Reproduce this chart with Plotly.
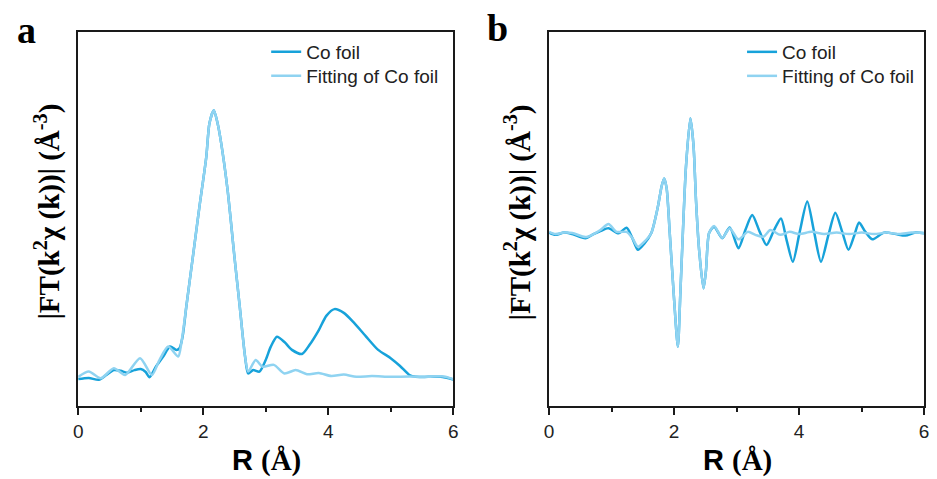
import plotly.graph_objects as go

# ---------------- data ----------------
# Panel a: |FT| magnitude (arbitrary units)
r_a_foil = [0.00, 0.17, 0.33, 0.45, 0.57, 0.68, 0.78, 0.90, 1.00, 1.08, 1.14, 1.25, 1.36, 1.47, 1.57,
            1.62, 1.67, 1.73, 1.835, 1.94, 2.05, 2.10, 2.17, 2.23, 2.28, 2.39, 2.50, 2.585, 2.67,
            2.72, 2.80, 2.90, 3.00, 3.08, 3.18, 3.30, 3.42, 3.58, 3.70, 3.85, 3.97, 4.10, 4.25, 4.40,
            4.60, 4.80, 5.00, 5.15, 5.30, 5.40, 5.60, 5.80, 6.00]
v_a_foil = [0.72, 0.75, 0.70, 0.83, 0.96, 0.94, 0.89, 0.96, 0.99, 0.91, 0.77, 1.07, 1.32, 1.59, 1.50,
            1.54, 1.85, 2.66, 3.99, 5.33, 6.67, 7.56, 7.91, 7.56, 7.11, 5.78, 3.99, 2.66, 1.32,
            0.87, 0.96, 0.92, 1.23, 1.58, 1.85, 1.71, 1.50, 1.39, 1.63, 2.03, 2.41, 2.59, 2.49, 2.25,
            1.87, 1.50, 1.28, 1.07, 0.83, 0.78, 0.78, 0.78, 0.71]

r_a_fit = [0.00, 0.17, 0.36, 0.57, 0.75, 0.99, 1.18, 1.30, 1.44, 1.60, 1.65, 1.73, 1.835, 1.94,
           2.05, 2.10, 2.17, 2.23, 2.28, 2.39, 2.50, 2.585, 2.67, 2.72, 2.84, 2.95, 3.13, 3.30,
           3.48, 3.66, 3.85, 4.05, 4.25, 4.45, 4.70, 5.00, 5.30, 5.60, 5.85, 6.00]
v_a_fit = [0.78, 0.92, 0.74, 1.01, 0.83, 1.28, 0.83, 1.23, 1.59, 1.32, 1.68, 2.66, 3.99, 5.33,
           6.67, 7.56, 7.91, 7.56, 7.11, 5.78, 3.99, 2.66, 1.32, 0.92, 1.23, 1.05, 1.10, 0.87,
           0.96, 0.85, 0.88, 0.80, 0.84, 0.78, 0.80, 0.78, 0.79, 0.78, 0.79, 0.72]

# Panel b: real part of FT (arbitrary units)
r_b_foil = [0.00, 0.10, 0.24, 0.37, 0.58, 0.71, 0.82, 0.95, 1.11, 1.24, 1.33, 1.42, 1.52, 1.635, 1.74,
            1.80, 1.84, 1.88, 1.93, 2.00, 2.06, 2.10, 2.14, 2.19, 2.26, 2.31, 2.35, 2.40, 2.47, 2.51,
            2.56, 2.64, 2.77, 2.89, 3.03, 3.14, 3.25, 3.37, 3.48, 3.60, 3.71, 3.80, 3.90, 4.01, 4.13,
            4.24, 4.35, 4.47, 4.58, 4.69, 4.79, 4.88, 4.96, 5.06, 5.17, 5.36, 5.55, 5.70, 5.86, 6.00]
v_b_foil = [0.01, -0.05, 0.01, -0.03, -0.14, -0.03, 0.05, 0.13, -0.01, 0.14, -0.13, -0.45, -0.29, 0.00, 0.70,
            1.25, 1.46, 1.20, 0.00, -1.79, -3.04, -1.60, 0.00, 1.78, 3.07, 2.35, 0.88, -0.45, -1.48, -1.00,
            0.00, 0.17, -0.14, 0.15, -0.41, 0.08, 0.48, 0.03, -0.32, 0.08, 0.39, -0.19, -0.77, 0.03, 0.84,
            0.03, -0.77, -0.05, 0.54, 0.03, -0.45, -0.08, 0.28, 0.03, -0.17, 0.01, -0.03, -0.07, 0.01, -0.01]

r_b_fit = [0.00, 0.10, 0.24, 0.37, 0.58, 0.71, 0.82, 0.95, 1.08, 1.24, 1.33, 1.42, 1.52, 1.635, 1.74,
           1.80, 1.84, 1.88, 1.93, 2.00, 2.06, 2.10, 2.14, 2.19, 2.26, 2.31, 2.35, 2.40, 2.47, 2.51,
           2.56, 2.64, 2.77, 2.89, 3.03, 3.18, 3.30, 3.43, 3.54, 3.70, 3.85, 4.00, 4.20, 4.40, 4.60,
           4.80, 5.00, 5.20, 5.40, 5.60, 5.80, 6.00]
v_b_fit = [0.03, -0.03, 0.01, 0.00, -0.11, -0.03, 0.08, 0.24, 0.03, 0.03, -0.13, -0.37, -0.24, 0.00, 0.70,
           1.25, 1.46, 1.20, 0.00, -1.79, -3.04, -1.60, 0.00, 1.78, 3.07, 2.35, 0.88, -0.45, -1.48, -1.00,
           0.00, 0.19, -0.13, 0.13, -0.17, 0.03, -0.05, -0.10, 0.08, -0.05, 0.03, -0.03, 0.03, -0.03, 0.01,
           -0.03, 0.01, -0.03, 0.01, -0.03, 0.01, 0.00]

x_tick_vals = [0, 2, 4, 6]
x_tick_text = ["0", "2", "4", "6"]
legend_names = ["Co foil", "Fitting of Co foil"]

# ---------------- style ----------------
DARK = "#17a2da"
LIGHT = "#8fd3f1"
W, H = 937, 479

fig = go.Figure()

def add_panel(xr, yr, xf, yf, xa, ya, leg1, leg2):
    fig.add_trace(go.Scatter(x=xr, y=yr, mode="lines", name=legend_names[0],
                             line=dict(color=DARK, width=2.5, shape="spline", smoothing=0.7),
                             xaxis=xa, yaxis=ya, legend=leg1))
    fig.add_trace(go.Scatter(x=xf, y=yf, mode="lines", name=legend_names[1],
                             line=dict(color=LIGHT, width=2.5, shape="spline", smoothing=0.7),
                             xaxis=xa, yaxis=ya, legend=leg2))

add_panel(r_a_foil, v_a_foil, r_a_fit, v_a_fit, "x", "y", "legend", "legend2")
add_panel(r_b_foil, v_b_foil, r_b_fit, v_b_fit, "x2", "y2", "legend3", "legend4")

y_dom = [(H - 406) / H, (H - 32) / H]
xdom_a = [74 / W, 453 / W]
xdom_b = [550 / W, 929 / W]

xaxis_common = dict(range=[0, 6], tickvals=x_tick_vals, ticktext=x_tick_text,
                    showline=True, linecolor="#1a1a1a", linewidth=2, mirror=True,
                    ticks="outside", ticklen=7, tickwidth=2, tickcolor="#1a1a1a",
                    minor=dict(ticks="outside", ticklen=4, tickwidth=1.5, dtick=1, tickcolor="#1a1a1a", showgrid=False),
                    showgrid=False, zeroline=False,
                    tickfont=dict(family="Liberation Sans, Arial", size=19, color="#222222"))
yaxis_common = dict(showline=True, linecolor="#1a1a1a", linewidth=2, mirror=True,
                    showticklabels=False, ticks="", showgrid=False, zeroline=False, domain=y_dom)

legend_common = dict(font=dict(family="Liberation Sans, Arial", size=19, color="#222222"),
                     bgcolor="rgba(0,0,0,0)", borderwidth=0, tracegroupgap=0,
                     xanchor="left", yanchor="top")

fig.update_layout(
    width=W, height=H,
    margin=dict(l=0, r=0, t=0, b=0),
    paper_bgcolor="white", plot_bgcolor="white",
    showlegend=True,
    xaxis=dict(domain=xdom_a, anchor="y", **xaxis_common),
    yaxis=dict(range=[0, 10], anchor="x", **yaxis_common),
    xaxis2=dict(domain=xdom_b, anchor="y2", **xaxis_common),
    yaxis2=dict(range=[-4.626, 5.374], anchor="x2", **yaxis_common),
    legend=dict(x=264 / W, y=1 - 33 / H, **legend_common),
    legend2=dict(x=264 / W, y=1 - 57 / H, **legend_common),
    legend3=dict(x=745 / W, y=1 - 33 / H, **legend_common),
    legend4=dict(x=745 / W, y=1 - 57 / H, **legend_common),
)

ytitle = "|FT(k<sup>2</sup>χ (k))| (Å<sup>-3</sup>)"
xtitle = "R <span style='font-family:Liberation Serif'>(Å)</span>"
serif = "Liberation Serif, Times New Roman"
sans = "Liberation Sans, Arial"

annos = [
    dict(text="<b>a</b>", x=22 / W, y=1 - 30 / H, font=dict(family=serif, size=38, color="black")),
    dict(text="<b>b</b>", x=498 / W, y=1 - 28 / H, font=dict(family=serif, size=38, color="black")),
    dict(text="<b>" + ytitle + "</b>", x=42 / W, y=1 - 212 / H, textangle=-90,
         font=dict(family=serif, size=29, color="black")),
    dict(text="<b>" + ytitle + "</b>", x=518 / W, y=1 - 212 / H, textangle=-90,
         font=dict(family=serif, size=29, color="black")),
    dict(text="<b>" + xtitle + "</b>", x=264 / W, y=1 - 460 / H,
         font=dict(family=sans, size=29, color="black")),
    dict(text="<b>" + xtitle + "</b>", x=740 / W, y=1 - 460 / H,
         font=dict(family=sans, size=29, color="black")),
]
for a in annos:
    fig.add_annotation(xref="paper", yref="paper", showarrow=False,
                       xanchor="center", yanchor="middle", **a)

fig.write_html("out.html", config={"displayModeBar": False},
               post_script="document.body.style.margin='0';document.body.style.overflow='hidden';")
